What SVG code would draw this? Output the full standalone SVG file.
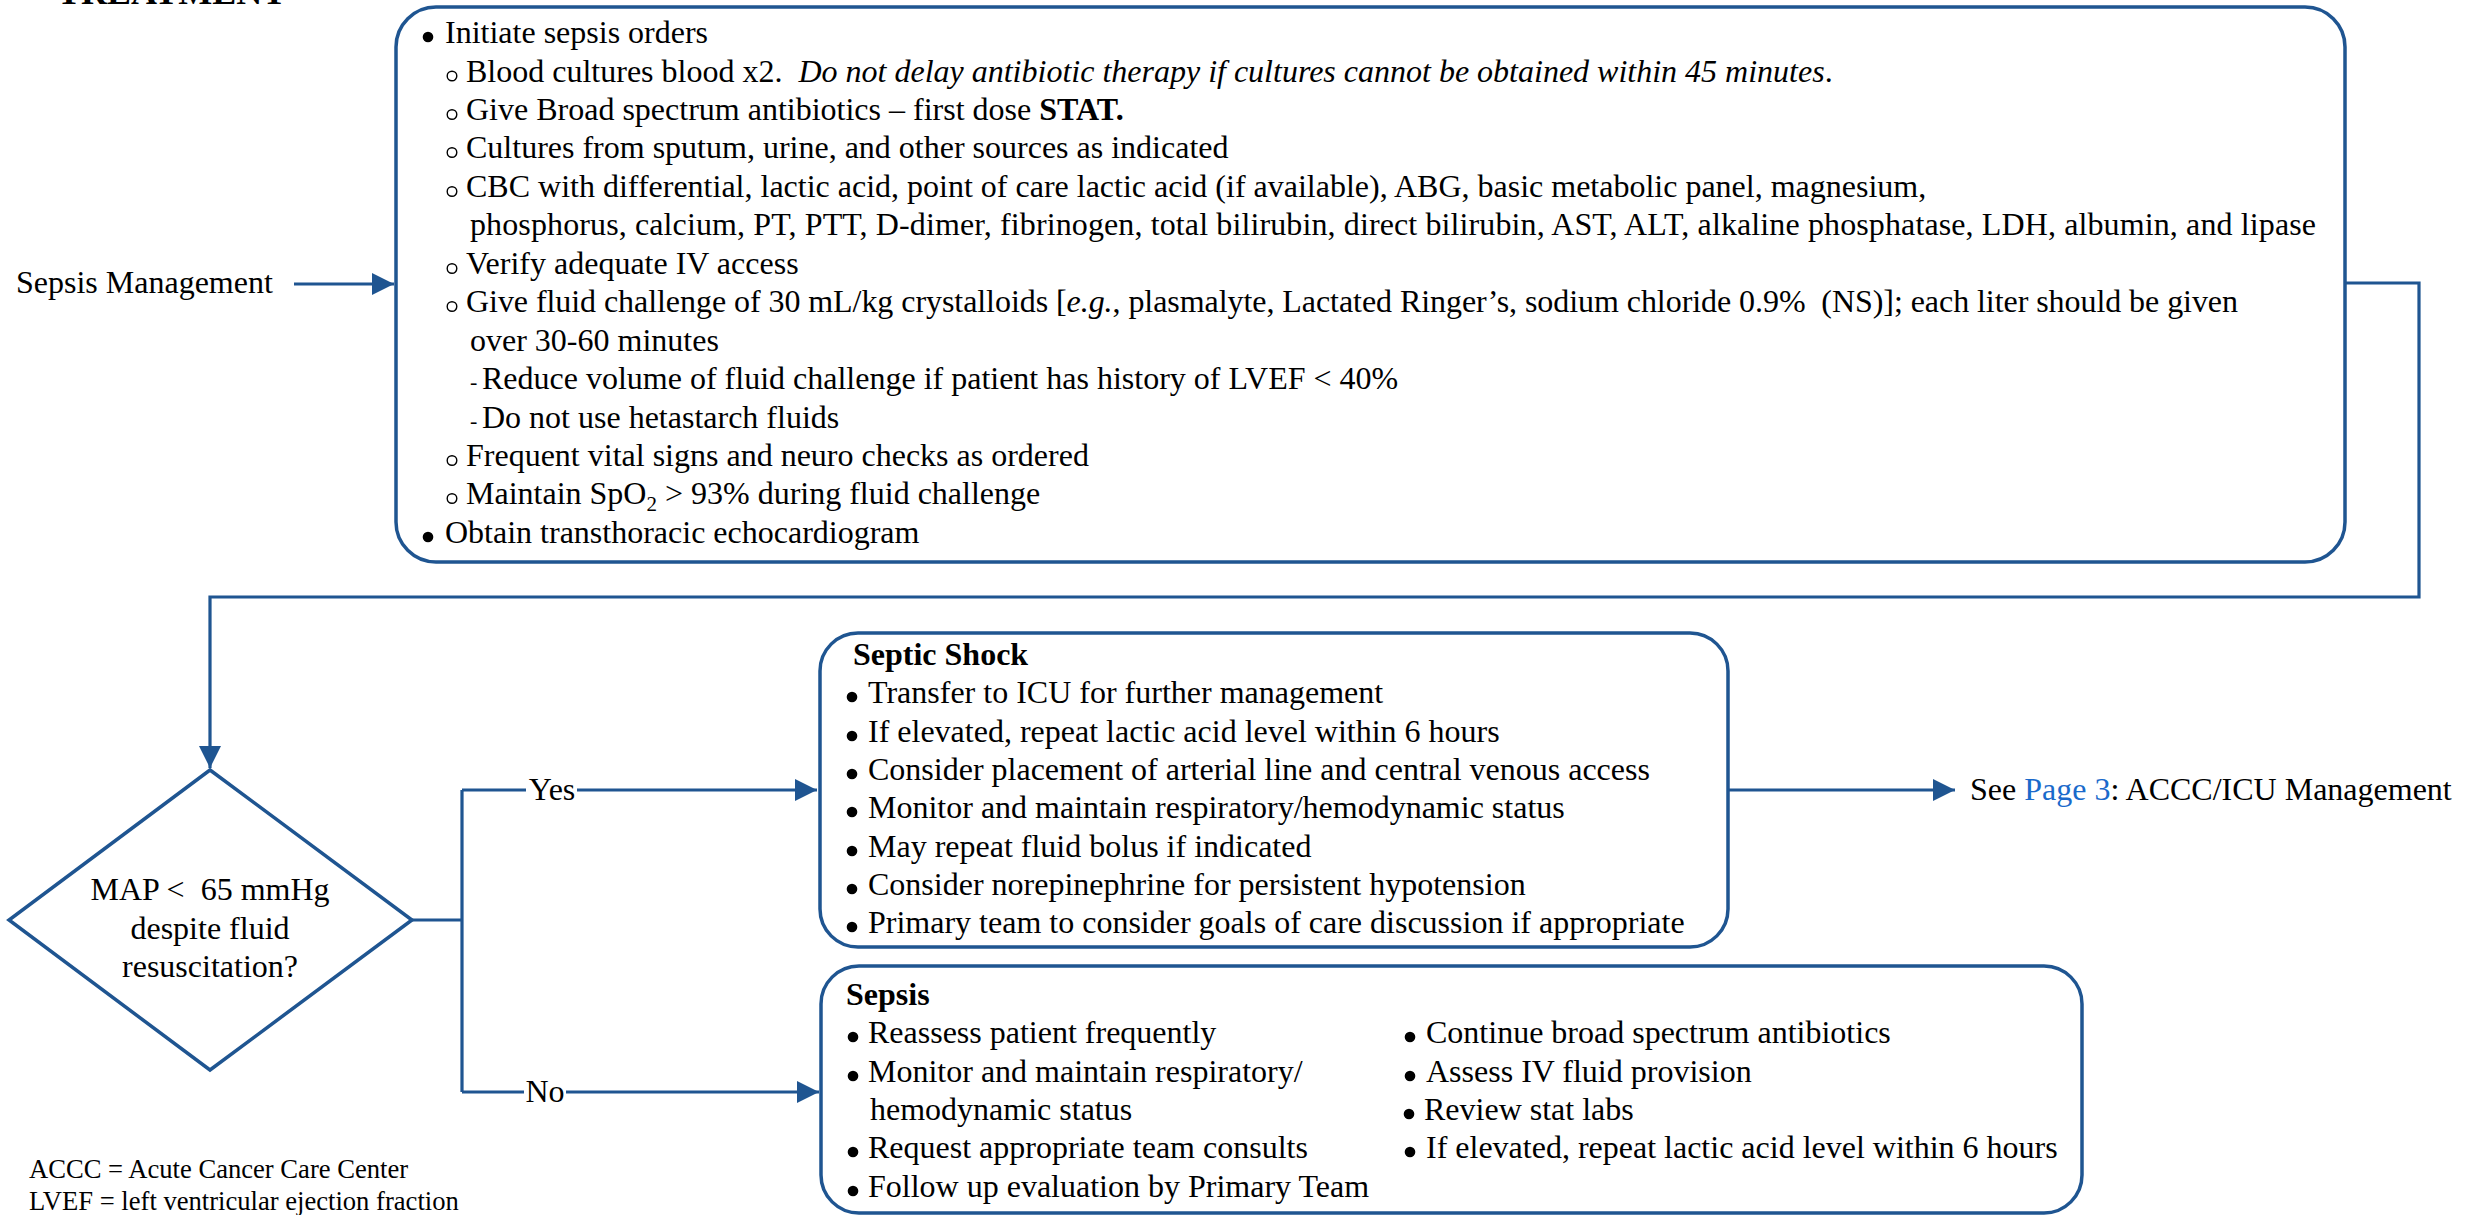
<svg xmlns="http://www.w3.org/2000/svg" width="2484" height="1215" viewBox="0 0 2484 1215" xml:space="preserve">
<style>
text { font-family: "Liberation Serif", "Times New Roman", serif; font-size: 32px; fill: #000; white-space: pre; }
.b { font-weight: bold; }
.i { font-style: italic; }
.dash { font-size: 22px; }
.fn { font-size: 26.6px; }
.link { fill: #1a6acb; }
.box { fill: #fff; stroke: #1f5591; stroke-width: 3.5; }
.con { fill: none; stroke: #1f5591; stroke-width: 3.2; }
.dot { fill: #000; }
.ring { fill: none; stroke: #000; stroke-width: 1.4; }
</style>
<defs>
<marker id="arr" markerUnits="userSpaceOnUse" markerWidth="22" markerHeight="22" refX="20" refY="10" orient="auto" viewBox="0 0 20 20">
<path d="M0,0 L20,10 L0,20 z" fill="#1f5591"/>
</marker>
<circle id="b1" class="dot" r="5.3" cx="0" cy="-6"/>
<circle id="b2" class="ring" r="4.8" cx="0" cy="-5.5"/>
</defs>
<rect width="2484" height="1215" fill="#fff"/>
<text class="b" x="57" y="4" style="font-size:36px">TREATMENT</text>

<g id="connectors">
<path class="con" d="M294,284 L394,284" marker-end="url(#arr)"/>
<path class="con" d="M2345,283 L2419,283 L2419,597 L210,597 L210,768" marker-end="url(#arr)"/>
<path class="con" d="M412,920 L462,920 M462,790 L462,1092"/>
<path class="con" d="M462,790 L817,790" marker-end="url(#arr)"/>
<path class="con" d="M462,1092 L819,1092" marker-end="url(#arr)"/>
<path class="con" d="M1729,790 L1955,790" marker-end="url(#arr)"/>
<rect x="526" y="775" width="51" height="32" fill="#fff"/>
<text x="552" y="800" text-anchor="middle">Yes</text>
<rect x="524" y="1077" width="42" height="32" fill="#fff"/>
<text x="545" y="1102" text-anchor="middle">No</text>
</g>

<g id="start">
<text x="16" y="293">Sepsis Management</text>
</g>

<g id="sepsis-orders">
<rect class="box" x="396" y="7" width="1949" height="555" rx="40" ry="40"/>
<use href="#b1" x="428" y="43"/>
<text x="445" y="43">Initiate sepsis orders</text>
<use href="#b2" x="452" y="81.5"/>
<text x="466" y="81.5">Blood cultures blood x2.  <tspan class="i">Do not delay antibiotic therapy if cultures cannot be obtained within 45 minutes</tspan>.</text>
<use href="#b2" x="452" y="120"/>
<text x="466" y="120">Give Broad spectrum antibiotics – first dose <tspan class="b">STAT.</tspan></text>
<use href="#b2" x="452" y="158"/>
<text x="466" y="158">Cultures from sputum, urine, and other sources as indicated</text>
<use href="#b2" x="452" y="197"/>
<text x="466" y="197">CBC with differential, lactic acid, point of care lactic acid (if available), ABG, basic metabolic panel, magnesium,</text>
<text x="470" y="235" textLength="1846" lengthAdjust="spacing">phosphorus, calcium, PT, PTT, D-dimer, fibrinogen, total bilirubin, direct bilirubin, AST, ALT, alkaline phosphatase, LDH, albumin, and lipase</text>
<use href="#b2" x="452" y="274"/>
<text x="466" y="274">Verify adequate IV access</text>
<use href="#b2" x="452" y="312"/>
<text x="466" y="312" textLength="1772" lengthAdjust="spacing">Give fluid challenge of 30 mL/kg crystalloids [<tspan class="i">e.g.</tspan>, plasmalyte, Lactated Ringer’s, sodium chloride 0.9%  (NS)]; each liter should be given</text>
<text x="470" y="351">over 30-60 minutes</text>
<text class="dash" x="470" y="389">-</text>
<text x="482" y="389">Reduce volume of fluid challenge if patient has history of LVEF &lt; 40%</text>
<text class="dash" x="470" y="428">-</text>
<text x="482" y="428">Do not use hetastarch fluids</text>
<use href="#b2" x="452" y="466"/>
<text x="466" y="466">Frequent vital signs and neuro checks as ordered</text>
<use href="#b2" x="452" y="504"/>
<text x="466" y="504">Maintain SpO<tspan dy="7" style="font-size:21px">2</tspan><tspan dy="-7"> &gt; 93% during fluid challenge</tspan></text>
<use href="#b1" x="428" y="543"/>
<text x="445" y="543">Obtain transthoracic echocardiogram</text>
</g>

<g id="decision">
<path class="box" d="M210,770 L412,920 L210,1070 L9,920 Z"/>
<text x="210" y="900" text-anchor="middle">MAP &lt;  65 mmHg</text>
<text x="210" y="938.5" text-anchor="middle">despite fluid</text>
<text x="210" y="977" text-anchor="middle">resuscitation?</text>
</g>

<g id="septic-shock">
<rect class="box" x="820" y="633" width="908" height="314" rx="38" ry="38"/>
<text class="b" x="853" y="665">Septic Shock</text>
<use href="#b1" x="852" y="703"/>
<text x="868" y="703">Transfer to ICU for further management</text>
<use href="#b1" x="852" y="742"/>
<text x="868" y="742">If elevated, repeat lactic acid level within 6 hours</text>
<use href="#b1" x="852" y="780"/>
<text x="868" y="780">Consider placement of arterial line and central venous access</text>
<use href="#b1" x="852" y="818"/>
<text x="868" y="818">Monitor and maintain respiratory/hemodynamic status</text>
<use href="#b1" x="852" y="857"/>
<text x="868" y="857">May repeat fluid bolus if indicated</text>
<use href="#b1" x="852" y="895"/>
<text x="868" y="895">Consider norepinephrine for persistent hypotension</text>
<use href="#b1" x="852" y="933"/>
<text x="868" y="933">Primary team to consider goals of care discussion if appropriate</text>
</g>

<g id="see-page-3">
<text x="1970" y="800">See <tspan class="link">Page 3</tspan>: ACCC/ICU Management</text>
</g>

<g id="sepsis">
<rect class="box" x="821" y="966" width="1261" height="247" rx="38" ry="38"/>
<text class="b" x="846" y="1005">Sepsis</text>
<use href="#b1" x="853" y="1043"/>
<text x="868" y="1043">Reassess patient frequently</text>
<use href="#b1" x="853" y="1082"/>
<text x="868" y="1082">Monitor and maintain respiratory/</text>
<text x="870" y="1120">hemodynamic status</text>
<use href="#b1" x="853" y="1158"/>
<text x="868" y="1158">Request appropriate team consults</text>
<use href="#b1" x="853" y="1197"/>
<text x="868" y="1197">Follow up evaluation by Primary Team</text>
<use href="#b1" x="1410" y="1043"/>
<text x="1426" y="1043">Continue broad spectrum antibiotics</text>
<use href="#b1" x="1410" y="1082"/>
<text x="1426" y="1082">Assess IV fluid provision</text>
<use href="#b1" x="1409" y="1120"/>
<text x="1424" y="1120">Review stat labs</text>
<use href="#b1" x="1410" y="1158"/>
<text x="1426" y="1158">If elevated, repeat lactic acid level within 6 hours</text>
</g>

<g id="footnotes">
<text class="fn" x="29" y="1178">ACCC = Acute Cancer Care Center</text>
<text class="fn" x="29" y="1210">LVEF = left ventricular ejection fraction</text>
</g>
</svg>
